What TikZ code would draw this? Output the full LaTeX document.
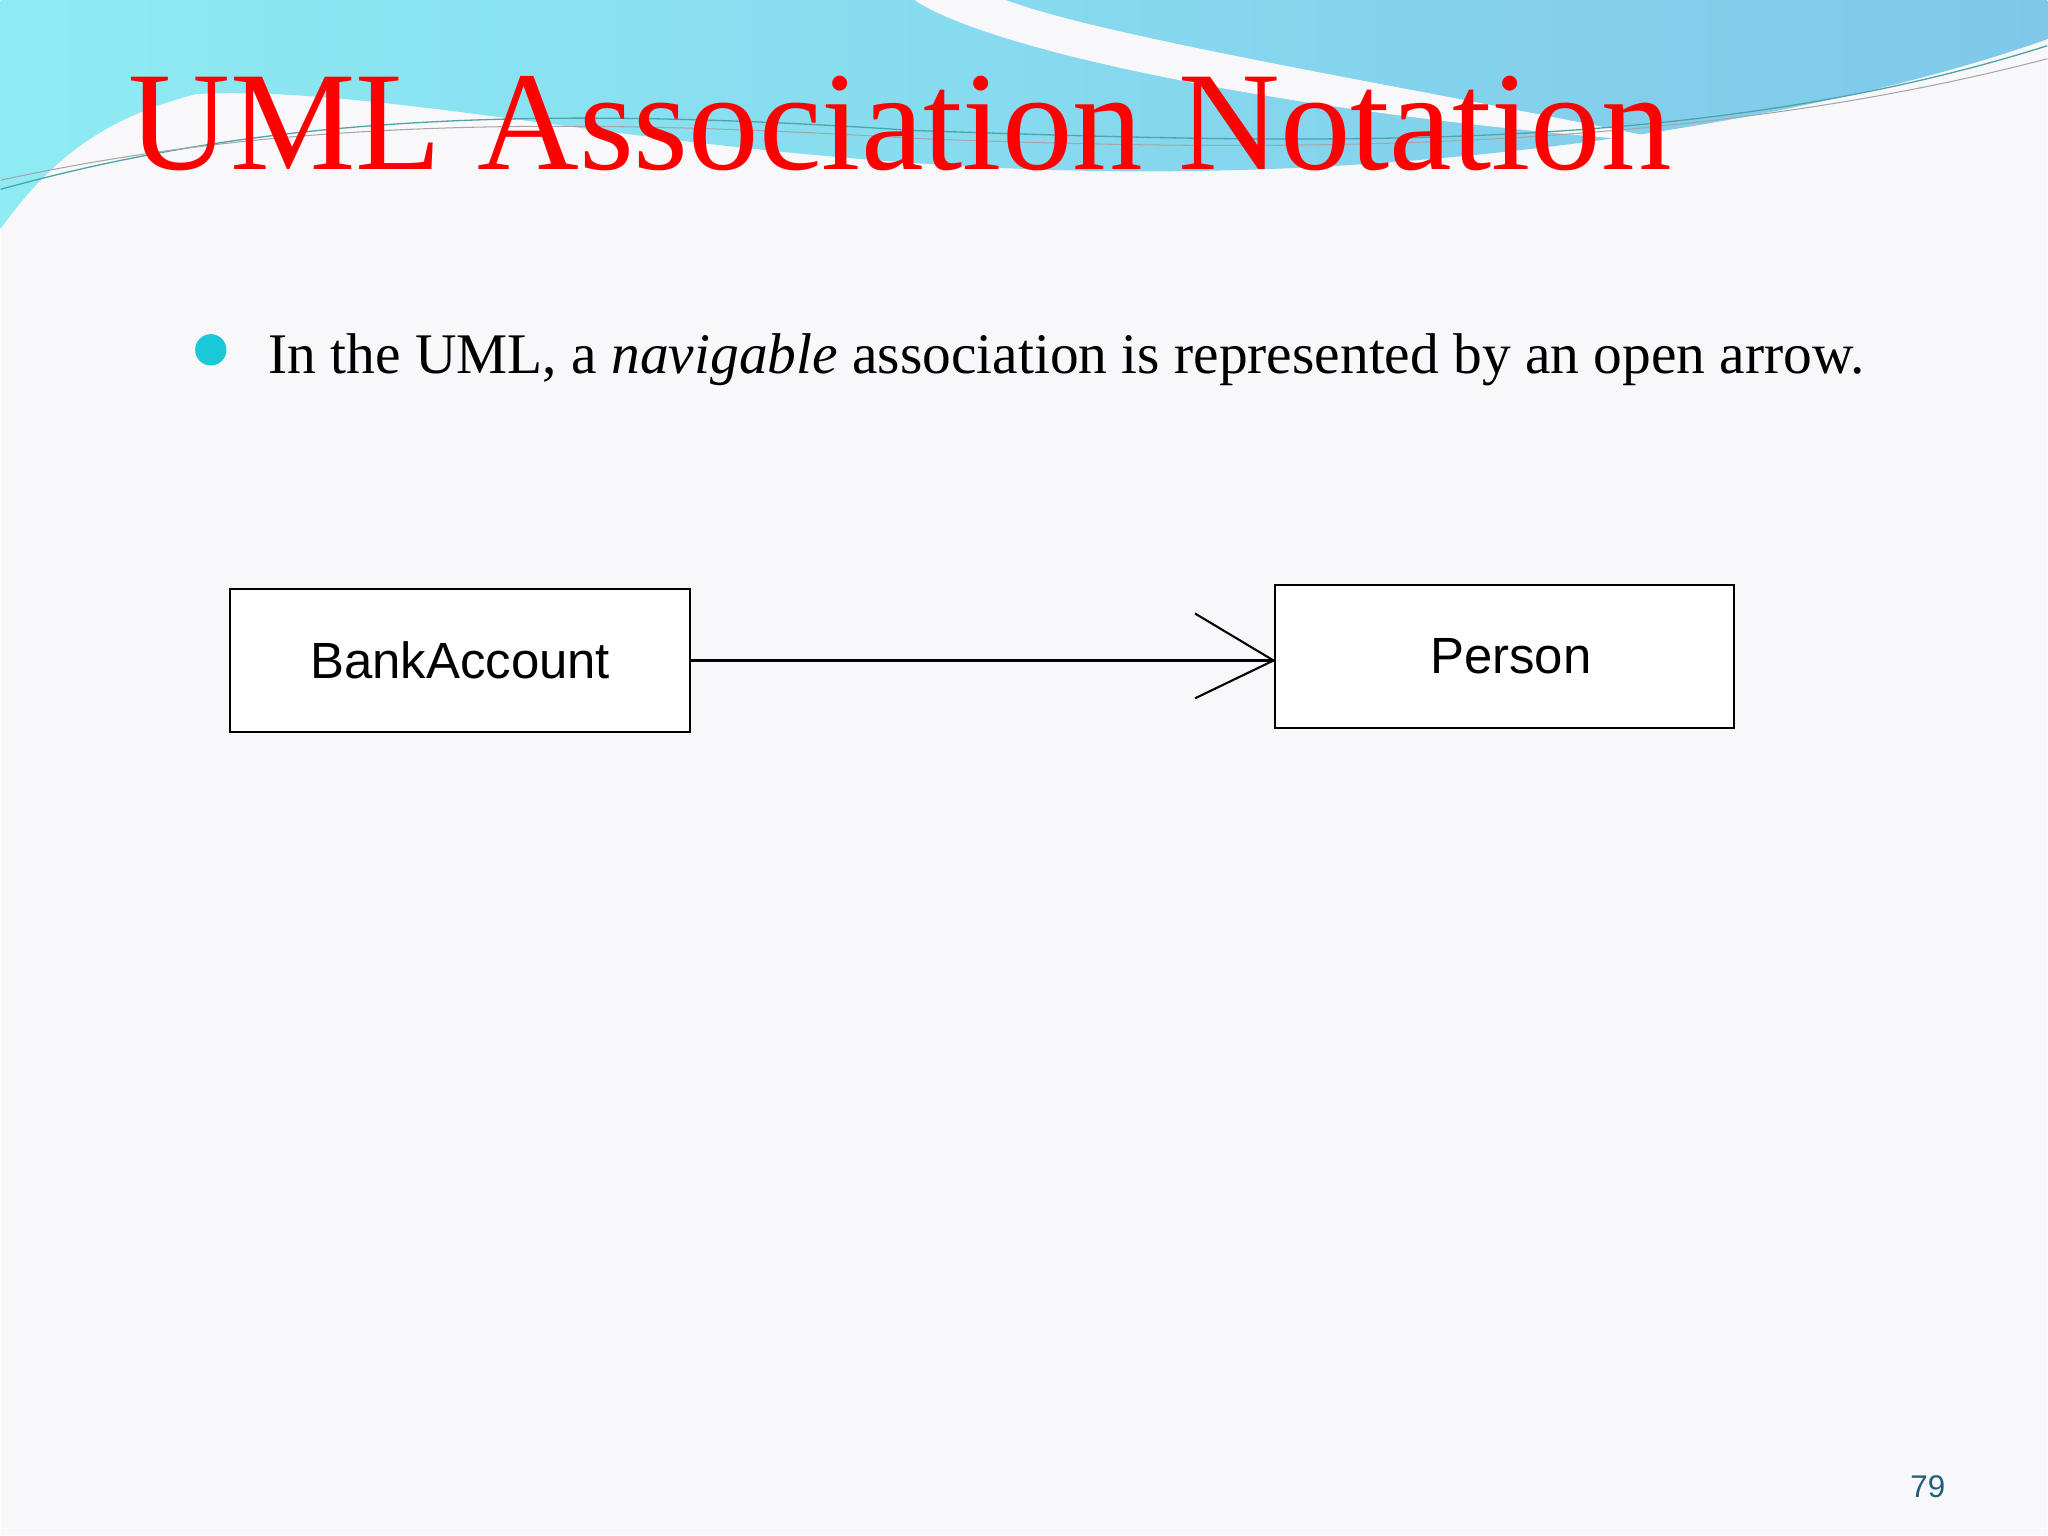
\documentclass[tikz,border=0pt]{standalone}
\usepackage{fontspec}
\setmainfont{Liberation Serif}
\setsansfont{Liberation Sans}
\definecolor{bgc}{HTML}{F8F7FA}
\definecolor{cyanL}{HTML}{8EEBF3}
\definecolor{blueR}{HTML}{7FC8EA}
\definecolor{bul}{HTML}{1BC8D8}
\definecolor{pnum}{HTML}{1F5F7A}
\tikzset{cls/.style={draw=black,line width=1.6pt,fill=white,minimum width=352pt,minimum height=110pt,inner sep=0pt,font=\sffamily\fontsize{39}{42}\selectfont}}
\begin{document}
\begin{tikzpicture}[x=1pt,y=-1pt]
\fill[bgc] (0,0) rectangle (1568,1176);
\shade[left color=cyanL,right color=blueR] (0,0) -- (1568,0) -- (1568,30) .. controls (1400,90) and (1100,140) .. (800,130) .. controls (500,120) and (300,65) .. (150,72) .. controls (80,90) and (40,120) .. (0,175) -- cycle;
\fill[bgc] (700,0) .. controls (760,40) and (1000,90) .. (1290,110) .. controls (1100,70) and (850,30) .. (770,0) -- cycle;
\draw[teal!70,line width=1pt] (0,145) .. controls (200,90) and (400,80) .. (700,100) .. controls (1000,110) and (1300,120) .. (1568,35);
\draw[gray!70,line width=0.8pt] (0,138) .. controls (200,95) and (400,88) .. (700,106) .. controls (1000,118) and (1300,115) .. (1568,45);
\node[anchor=base west,text=red,font=\fontsize{108}{110}\selectfont,inner sep=0pt] (title) at (98,130) {UML Association Notation};
\fill[bul] (161,268) circle (12);
\node[anchor=base west,font=\fontsize{44}{46}\selectfont,inner sep=0pt] (txt) at (205,286) {In the UML, a \textit{navigable} association is represented by an open arrow.};
\node[cls] (ba) at (352,506) {\raisebox{-6pt}{BankAccount}};
\node[cls] (pe) at (1152,503) {\hspace{10pt}\raisebox{-3pt}{Person}};
\coordinate (tip) at (pe.west|-0,506);
\draw[line width=1.6pt] (ba.east|-0,506) -- (tip);
\draw[line width=1.6pt] (915,470) -- (tip) -- (915,535);
\node[anchor=base east,text=pnum,font=\sffamily\fontsize{24}{26}\selectfont,inner sep=0pt] (pn) at (1490,1147) {79};
\end{tikzpicture}
\end{document}
